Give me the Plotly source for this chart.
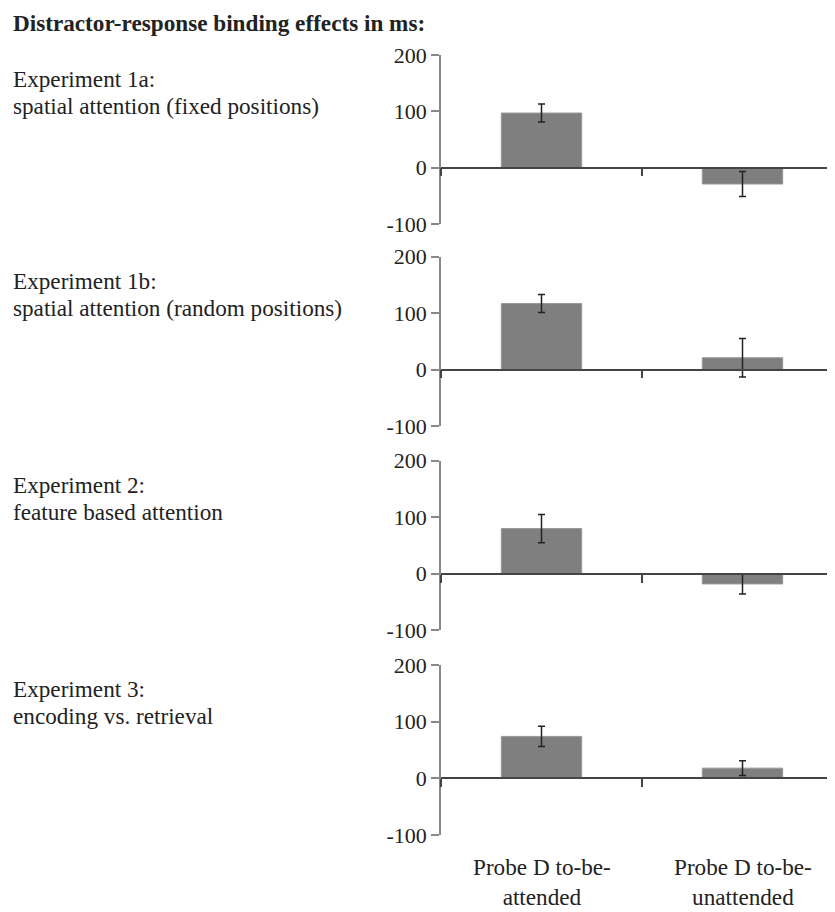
import plotly.graph_objects as go

# ---------------- data ----------------
title_text = "Distractor-response binding effects in ms:"
experiments = ["Experiment 1a:", "Experiment 1b:", "Experiment 2:", "Experiment 3:"]
descriptions = ["spatial attention (fixed positions)",
                "spatial attention (random positions)",
                "feature based attention",
                "encoding vs. retrieval"]
categories = ["Probe D to-be-<br>attended", "Probe D to-be-<br>unattended"]
attended = [97, 117, 80, 74]
attended_err = [16, 16, 25, 18]
unattended = [-29, 21, -18, 18]
unattended_err = [22, 34, 18, 13]
y_ticks = [-100, 0, 100, 200]
y_tick_text = ["-100", "0", "100", "200"]

# ---------------- layout constants ----------------
W, H = 835, 912
OFF = 8  # page body offset
FONT = "Liberation Serif"
panel_px = [(55, 224), (256.7, 426), (460.7, 630.3), (665, 835)]  # (top, bottom) in px
x_left_px = 441
YMIN, YMAX = -100, 200


def py(px):
    return 1 - (px - OFF) / H


def px_(x):
    return (x - OFF) / W


fig = go.Figure()
layout = dict(
    width=W, height=H,
    margin=dict(l=0, r=0, t=0, b=0, pad=0, autoexpand=False),
    paper_bgcolor="white", plot_bgcolor="white",
    showlegend=False,
    font=dict(family=FONT, size=22, color="#222"),
)
annotations = []

for i in range(4):
    n = "" if i == 0 else str(i + 1)
    xa, ya = "x" + n, "y" + n
    top, bot = panel_px[i]
    d0, d1 = py(bot), py(top)
    zero_pos = d0 + (d1 - d0) * (0 - YMIN) / (YMAX - YMIN)
    fig.add_trace(go.Bar(
        x=list(range(len(categories))), y=[attended[i], unattended[i]],
        error_y=dict(type="data", array=[attended_err[i], unattended_err[i]],
                     color="#222", thickness=1.5, width=3.5),
        marker=dict(color="#7f7f7f", line=dict(color="#999999", width=1)),
        width=0.4,
        xaxis=xa, yaxis=ya,
    ))
    layout["xaxis" + n] = dict(
        domain=[px_(x_left_px), 1], range=[-0.5, 1.5],
        anchor="free", position=zero_pos,
        showline=True, linecolor="#444", linewidth=1.5,
        ticks="outside", tickmode="array", tickvals=[-0.5, 0.5],
        ticklen=8, tickcolor="#444", tickwidth=1.5,
        showticklabels=False, showgrid=False, zeroline=False,
        type="linear", fixedrange=True, automargin=False,
    )
    layout["yaxis" + n] = dict(
        domain=[d0, d1], range=[YMIN, YMAX],
        anchor=xa,
        showline=True, linecolor="#888", linewidth=1.5,
        ticks="outside", tickmode="array", tickvals=y_ticks, ticktext=y_tick_text,
        ticklen=8, tickcolor="#888", tickwidth=1.5,
        showgrid=False, zeroline=False, automargin=False,
        tickfont=dict(family=FONT, size=22, color="#222"),
    )
    annotations.append(dict(
        text=experiments[i], xref="paper", yref="paper",
        x=px_(11), y=py(top + 24), xanchor="left", yanchor="middle",
        showarrow=False, font=dict(family=FONT, size=23.2, color="#222"),
    ))
    annotations.append(dict(
        text=descriptions[i], xref="paper", yref="paper",
        x=px_(11), y=py(top + 51), xanchor="left", yanchor="middle",
        showarrow=False, font=dict(family=FONT, size=23.2, color="#222"),
    ))

# category labels under the bottom panel
for j, cat in enumerate(categories):
    annotations.append(dict(
        text=cat, xref="x4", yref="paper", x=j, y=py(882),
        xanchor="center", yanchor="middle", showarrow=False,
        font=dict(family=FONT, size=23.2, color="#222"),
    ))

annotations.append(dict(
    text="<b>" + title_text + "</b>", xref="paper", yref="paper",
    x=px_(11), y=py(23), xanchor="left", yanchor="middle", showarrow=False,
    font=dict(family=FONT, size=23.2, color="#222"),
))

layout["annotations"] = annotations
fig.update_layout(**layout)

fig.write_html("out.html")
